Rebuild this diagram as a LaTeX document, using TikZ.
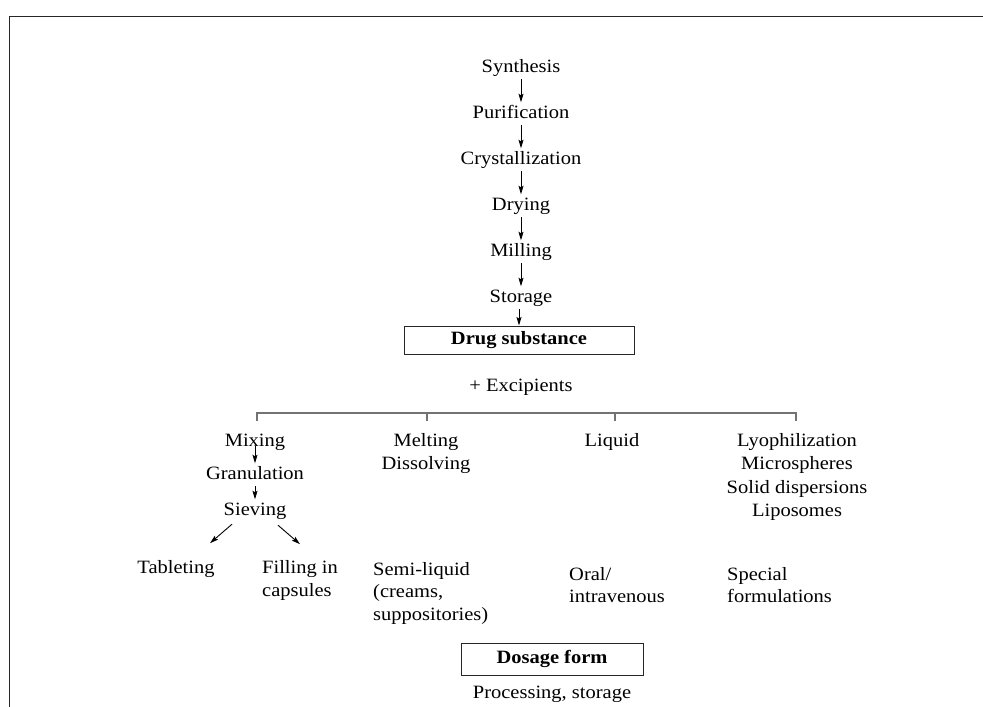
\documentclass[tikz,border=0pt]{standalone}
\usepackage{fontspec}
\setmainfont{Liberation Serif}[FakeStretch=1.09]
\usetikzlibrary{arrows.meta,calc}
\begin{document}
\begin{tikzpicture}[x=1pt,y=-1pt,
  font=\fontsize{18.8pt}{23.5pt}\selectfont,
  lab/.style={inner sep=2.5pt, text height=13pt, text depth=4.5pt, anchor=base},
  ml/.style={inner sep=0pt, align=left, anchor=base west},
  mc/.style={inner sep=0pt, align=center, anchor=base},
  arr/.style={line width=0.9pt, -{Stealth[length=8.5pt,width=5pt,inset=1.5pt]}},
  boxn/.style={draw=black!85, line width=1pt, inner sep=0pt, font=\fontsize{18.8pt}{23.5pt}\selectfont\bfseries},
  tree/.style={draw=black!55, line width=1.3pt},
  frame/.style={draw=black!85, line width=1.5pt}]
\useasboundingbox (0,0) rectangle (983,707);
% open frame
\coordinate (fr1) at (983,16.5);
\coordinate (fr2) at (9.5,16.5);
\coordinate (fr3) at (9.5,707);
\draw[frame] (fr1) -- (fr2) -- (fr3);
% drug substance chain
\node[lab] (syn) at (521,72) {Synthesis};
\node[lab] (pur) at (521,118) {Purification};
\node[lab] (cry) at (521,164) {Crystallization};
\node[lab] (dry) at (521,210) {Drying};
\node[lab] (mil) at (521,256) {Milling};
\node[lab] (sto) at (521,302) {Storage};
\node[boxn, minimum width=230pt, minimum height=28pt] (ds) at (519,340) {Drug substance};
\draw[arr] (syn) -- (pur);
\draw[arr] (pur) -- (cry);
\draw[arr] (cry) -- (dry);
\draw[arr] (dry) -- (mil);
\draw[arr] (mil) -- (sto);
\draw[arr] (sto.south -| ds.north) -- (ds.north);
\node[lab] (exc) at (521,391) {+ Excipients};
% tree
\coordinate (t1) at (257,421);
\coordinate (t2) at (427,421);
\coordinate (t3) at (615,421);
\coordinate (t4) at (796,421);
\coordinate (h1) at (257,413);
\coordinate (h2) at (427,413);
\coordinate (h3) at (615,413);
\coordinate (h4) at (796,413);
\draw[tree] (t1) -- (h1) -- (h4) -- (t4);
\draw[tree] (h2) -- (t2);
\draw[tree] (h3) -- (t3);
% branches
\node[lab] (mix) at (255,446) {Mixing};
\node[lab] (gra) at (255,479) {Granulation};
\node[lab] (sie) at (255,515) {Sieving};
\draw[arr] (mix.base) -- (gra.north);
\draw[arr] (gra) -- (sie);
\node[mc] (mel) at (426,469.5) {Melting\\Dissolving};
\node[lab] (liq) at (612,446) {Liquid};
\node[mc] (lyo) at (797,516.5) {Lyophilization\\Microspheres\\Solid dispersions\\Liposomes};
\node[lab] (tab) at (176,573) {Tableting};
\node[ml] (fil) at (262,596.5) {Filling in\\capsules};
\draw[arr] ($(sie.south)+(-23,2)$) -- ($(sie.south)+(-45,21)$);
\draw[arr] ($(sie.south)+(23,3)$) -- ($(sie.south)+(45,22)$);
\node[ml, font=\fontsize{18.8pt}{22.5pt}\selectfont] (sem) at (373,620) {Semi-liquid\\(creams,\\suppositories)};
\node[ml, font=\fontsize{18.8pt}{22pt}\selectfont] (ora) at (569,602) {Oral/\\intravenous};
\node[ml, font=\fontsize{18.8pt}{22pt}\selectfont] (spe) at (727,602) {Special\\formulations};
\node[boxn, minimum width=182pt, minimum height=32pt] (df) at (552,659) {Dosage form};
\node[lab] (pro) at (552,698) {Processing, storage};
\end{tikzpicture}
\end{document}
